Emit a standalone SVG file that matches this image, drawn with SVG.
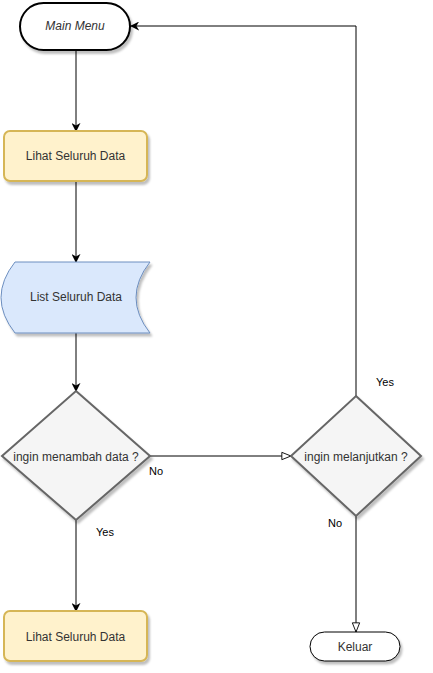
<svg xmlns="http://www.w3.org/2000/svg" width="433" height="673" viewBox="0 0 433 673">
  <defs>
    <filter id="sh" x="-20%" y="-20%" width="140%" height="150%">
      <feDropShadow dx="2" dy="3" stdDeviation="1.2" flood-color="#000" flood-opacity="0.25"/>
    </filter>
    <marker id="blk" viewBox="0 0 10 10" refX="9" refY="5" markerWidth="9" markerHeight="9" markerUnits="userSpaceOnUse" orient="auto">
      <path d="M0,0 L10,5 L0,10 L3,5 Z" fill="#000"/>
    </marker>
    <marker id="opn" viewBox="0 0 12 10" refX="11" refY="5" markerWidth="11" markerHeight="10" markerUnits="userSpaceOnUse" orient="auto">
      <path d="M1,1 L11,5 L1,9 Z" fill="#fff" stroke="#000" stroke-width="1"/>
    </marker>
  </defs>
  <style>
    text { font-family: "Liberation Sans", Arial, sans-serif; font-size: 12px; fill: #333; text-anchor: middle; }
    .lbl { font-size: 11px; fill: #000; }
    .edge { fill: none; stroke: #000; stroke-width: 1; }
    .proc { fill: #fff2cc; stroke: #d6b656; stroke-width: 2; }
    .dec { fill: #f5f5f5; stroke: #666666; stroke-width: 2; }
  </style>
  <rect width="433" height="673" fill="#fff"/>

  <g id="connectors">
    <line class="edge" x1="76" y1="50" x2="76" y2="131" marker-end="url(#blk)"/>
    <line class="edge" x1="76" y1="181" x2="76" y2="262" marker-end="url(#blk)"/>
    <line class="edge" x1="76" y1="333" x2="76" y2="391" marker-end="url(#blk)"/>
    <line class="edge" x1="150" y1="456" x2="291" y2="456" marker-end="url(#opn)"/>
    <polyline class="edge" points="356,396 356,26 131,26" marker-end="url(#blk)"/>
    <line class="edge" x1="356" y1="516" x2="356" y2="632" marker-end="url(#opn)"/>
    <line class="edge" x1="76" y1="520" x2="76" y2="611" marker-end="url(#blk)"/>
    <text class="lbl" x="156" y="475">No</text>
    <text class="lbl" x="385" y="386">Yes</text>
    <text class="lbl" x="335" y="527">No</text>
    <text class="lbl" x="105" y="536">Yes</text>
  </g>

  <g id="main-menu">
    <rect x="20" y="3" width="110" height="47" rx="23.5" fill="#fff" stroke="#000" stroke-width="2" filter="url(#sh)"/>
    <text x="75" y="30" font-style="italic">Main Menu</text>
  </g>

  <g id="lihat-1">
    <rect class="proc" x="4" y="131" width="143" height="50" rx="6" filter="url(#sh)"/>
    <text x="75.5" y="160">Lihat Seluruh Data</text>
  </g>

  <g id="list-data">
    <path d="M15,262 L150,262 Q122,297.5 150,333 L15,333 Q-13,297.5 15,262 Z" fill="#dae8fc" stroke="#6c8ebf" stroke-width="1" filter="url(#sh)"/>
    <text x="76" y="301">List Seluruh Data</text>
  </g>

  <g id="decision-tambah">
    <polygon class="dec" points="76,391 150,456 76,520 2,456" filter="url(#sh)"/>
    <text x="76" y="461">ingin menambah data ?</text>
  </g>

  <g id="decision-lanjut">
    <polygon class="dec" points="356,396 421,456 356,516 291,456" filter="url(#sh)"/>
    <text x="356" y="461">ingin melanjutkan ?</text>
  </g>

  <g id="lihat-2">
    <rect class="proc" x="4" y="611" width="143" height="50" rx="6" filter="url(#sh)"/>
    <text x="75.5" y="641">Lihat Seluruh Data</text>
  </g>

  <g id="keluar">
    <rect x="310" y="632" width="90" height="29" rx="14.5" fill="#fff" stroke="#000" stroke-width="1" filter="url(#sh)"/>
    <text x="355" y="651">Keluar</text>
  </g>
</svg>
